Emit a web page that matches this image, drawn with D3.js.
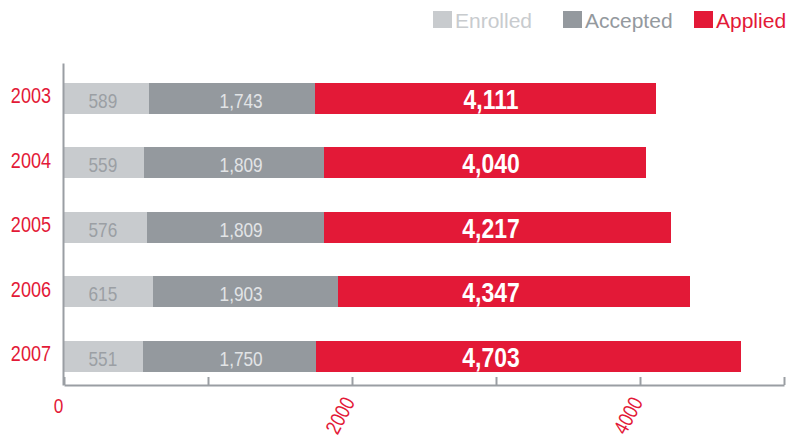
<!DOCTYPE html>
<html>
<head>
<script src="https://d3js.org/d3.v7.min.js"></script>
<style>
  body { margin: 0; background: #fff; }
  svg { display: block; }
  .narrow { font-family: "Liberation Sans", Arial, sans-serif; }
  .legend text { font-family: "Liberation Sans", Arial, sans-serif; font-size: 21px; }
</style>
</head>
<body>
<div id="chart"></div>
<script>
var years = ["2003", "2004", "2005", "2006", "2007"];
var enrolled = [589, 559, 576, 615, 551];
var accepted = [1743, 1809, 1809, 1903, 1750];
var applied = [4111, 4040, 4217, 4347, 4703];
var xTicks = [0, 1000, 2000, 3000, 4000, 5000];
var xTickLabels = ["0", "", "2000", "", "4000", ""];
var seriesNames = ["Enrolled", "Accepted", "Applied"];

var width = 786, height = 440;
var red = "#e31937", light = "#c8cbce", dark = "#94999e", axisGray = "#9a9ea3";
var squeeze = 0.82; // fake a condensed face

var svg = d3.select("#chart").append("svg")
  .attr("width", width).attr("height", height);

var x = d3.scaleLinear().domain([0, 5000]).range([64, 784]);
var y = d3.scaleBand().domain(years).range([63, 385])
  .paddingInner(0.52).paddingOuter(0.256).align(0.6);

var rows = years.map(function (yr, i) {
  return { year: yr, enrolled: enrolled[i], accepted: accepted[i], applied: applied[i] };
});

// bars overlap, longest first
var layers = [
  { key: "applied", color: red },
  { key: "accepted", color: dark },
  { key: "enrolled", color: light }
];
layers.forEach(function (l) {
  svg.append("g").attr("shape-rendering", "crispEdges")
    .selectAll("rect").data(rows).enter().append("rect")
    .attr("x", x(0))
    .attr("y", function (d) { return y(d.year); })
    .attr("width", function (d) { return x(d[l.key]) - x(0); })
    .attr("height", y.bandwidth())
    .attr("fill", l.color);
});

// value labels sit in fixed columns
var fmt = d3.format(",");
var labelCols = [
  { key: "enrolled", at: 270, color: "#9b9fa4", size: 21, weight: "normal", dy: 9.5 },
  { key: "accepted", at: 1230, color: "#e2e4e6", size: 21, weight: "normal", dy: 9.5 },
  { key: "applied", at: 2965, color: "#ffffff", size: 28, weight: "bold", dy: 10.5 }
];
labelCols.forEach(function (c) {
  svg.append("g").attr("class", "narrow").selectAll("text").data(rows).enter().append("text")
    .attr("transform", function (d) {
      return "translate(" + x(c.at) + "," + (y(d.year) + y.bandwidth() / 2 + c.dy) + ") scale(" + squeeze + ",1)";
    })
    .attr("text-anchor", "middle")
    .attr("fill", c.color)
    .attr("font-size", c.size)
    .attr("font-weight", c.weight)
    .text(function (d) { return fmt(d[c.key]); });
});

// y axis
var yAxis = svg.append("g").attr("class", "narrow")
  .attr("transform", "translate(63,0)")
  .call(d3.axisLeft(y).tickSize(0).tickPadding(12));
yAxis.select(".domain").attr("stroke", axisGray).attr("stroke-width", 2);
yAxis.selectAll("text")
  .attr("fill", red).attr("font-size", 22)
  .attr("dy", null).attr("x", null).attr("y", null)
  .attr("transform", "translate(-12,4.8) scale(" + squeeze + ",1)");

// x axis
var xAxis = svg.append("g").attr("class", "narrow")
  .attr("transform", "translate(0,385)")
  .call(d3.axisBottom(x).tickValues(xTicks).tickSizeInner(-8).tickSizeOuter(0)
    .tickFormat(function (d, i) { return xTickLabels[i]; }));
xAxis.select(".domain").attr("stroke", axisGray).attr("stroke-width", 2);
xAxis.selectAll(".tick line").attr("stroke", axisGray).attr("stroke-width", 2);
xAxis.selectAll(".tick text")
  .attr("fill", red).attr("font-size", 21)
  .attr("dy", null).attr("x", null).attr("y", null)
  .each(function (d) {
    var t = d3.select(this);
    if (d === 0) {
      t.attr("text-anchor", "middle")
        .attr("transform", "translate(-6,28) scale(" + squeeze + ",1)");
    } else {
      t.attr("text-anchor", "end")
        .attr("transform", "translate(3,17) rotate(-62) scale(" + squeeze + ",1)");
    }
  });

// legend
var legendX = [433, 563, 694];
var legendColors = [light, dark, red];
var legend = svg.append("g").attr("class", "legend");
var items = legend.selectAll("g").data(seriesNames).enter().append("g")
  .attr("transform", function (d, i) { return "translate(" + legendX[i] + ",0)"; });
items.append("rect")
  .attr("x", 0).attr("y", 11).attr("width", 19).attr("height", 17)
  .attr("fill", function (d, i) { return legendColors[i]; });
items.append("text")
  .attr("x", 22).attr("y", 28)
  .attr("fill", function (d, i) { return legendColors[i]; })
  .text(function (d) { return d; });
</script>
</body>
</html>
